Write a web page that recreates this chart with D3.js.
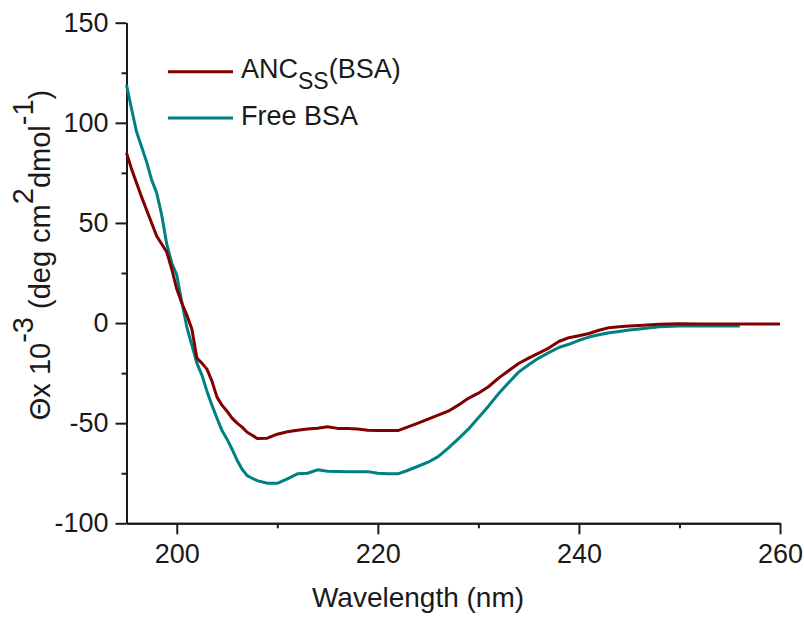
<!DOCTYPE html>
<html>
<head>
<meta charset="utf-8">
<script src="https://cdn.jsdelivr.net/npm/d3@7"></script>
<style>
  html,body{margin:0;padding:0;background:#fff;}
  svg{display:block;font-family:"Liberation Sans",Arial,sans-serif;}
  .axis path,.axis line{stroke:#1a1a1a;stroke-width:2;}
  .axis text{fill:#1a1a1a;font-size:27px;font-family:"Liberation Sans",Arial,sans-serif;}
</style>
</head>
<body>
<svg id="chart" width="804" height="619"></svg>
<script>
// CD spectra : ellipticité molaire (x10^-3) en fonction de la longueur d'onde

// ── DONNÉES ──────────────────────────────────────────────────────────────
var wavelength=[195,195.5,196,196.5,197,197.5,198,198.5,199,199.5,200,200.5,201,201.5,202,202.5,
  203,203.5,204,204.5,205,205.5,206,206.5,207,207.5,208,209,210,211,212,213,214,215,216,217,218,
  219,220,221,222,223,224,225,226,227,228,229,230,231,232,233,234,235,236,237,238,239,240,241,242,
  243,244,245,246,248,250,252,254,256,258,260];

var ancBsa=[85,77,70,63,56.5,50,43.5,39.5,35.5,27,17,10,4,-3,-17.5,-20,
  -23,-29,-37,-41,-44,-47.5,-50,-52,-54.5,-56,-57.6,-57.5,-55.5,-54.3,-53.5,-52.9,-52.5,-51.8,-52.6,-52.7,-52.9,
  -53.5,-53.7,-53.7,-53.7,-51.8,-50,-48,-46,-44,-41,-37.6,-35,-31.8,-27.5,-23.8,-20.2,-17.5,-15,-12.5,-9.2,-7.3,-6.3,-5.2,-3.6,
  -2.3,-1.9,-1.5,-1.2,-0.6,-0.4,-0.5,-0.5,-0.5,-0.5,-0.5];

var freeBsa=[119,107,95.5,88,80.5,71.5,65,54,39.5,30,24,10.5,-2,-11,-20,-26,
  -34,-41,-47.5,-53.7,-58,-63,-68.5,-73,-76.2,-77.5,-78.7,-80,-80,-77.8,-75.3,-75,-73.3,-74,-74.1,-74.2,-74.2,
  -74.2,-75,-75.3,-75.3,-73.5,-71.5,-69.5,-66.7,-62.5,-57.8,-53,-47.3,-41.5,-35.3,-29.8,-24.5,-20.8,-17.5,-14.8,-12.2,-10.6,-8.6,-7,-5.8,
  -4.8,-4.2,-3.5,-3,-1.8,-1.5,-1.5,-1.5,-1.5,null,null];

var xMajor=[200,220,240,260], xMinor=[210,230,250];
var yMajor=[-100,-50,0,50,100,150], yMinor=[-75,-25,25,75,125];

var seriesNames=["ANC","Free BSA"];
var seriesColors=["#800000","#008080"];

// ── ÉCHELLES ─────────────────────────────────────────────────────────────
var svg=d3.select("#chart");
var x=d3.scaleLinear().domain([195,260]).range([126.5,780]);
var y=d3.scaleLinear().domain([-100,150]).range([523.3,22.7]);
var fmt=function(d){return String(d);}; // trait d'union simple, comme Origin

// ── AXES (graduations mineures puis majeures) ───────────────────────────
svg.append("g").attr("class","axis").attr("transform","translate(0,"+y(-100)+")")
  .call(d3.axisBottom(x).tickValues(xMinor).tickSize(5).tickSizeOuter(0).tickFormat(""));
svg.append("g").attr("class","axis").attr("transform","translate(0,"+y(-100)+")")
  .call(d3.axisBottom(x).tickValues(xMajor).tickSize(11).tickSizeOuter(0).tickPadding(10).tickFormat(fmt));
svg.append("g").attr("class","axis").attr("transform","translate("+x(195)+",0)")
  .call(d3.axisLeft(y).tickValues(yMinor).tickSize(5).tickSizeOuter(0).tickFormat(""));
svg.append("g").attr("class","axis").attr("transform","translate("+x(195)+",0)")
  .call(d3.axisLeft(y).tickValues(yMajor).tickSize(11).tickSizeOuter(0).tickPadding(7).tickFormat(fmt));

// ── COURBES ──────────────────────────────────────────────────────────────
function lineOf(vals){
  return d3.line()
    .defined(function(d,i){return vals[i]!==null;})
    .x(function(d){return x(d);})
    .y(function(d,i){return y(vals[i]);})(wavelength);
}
svg.append("path").attr("d",lineOf(freeBsa)).attr("fill","none")
  .attr("stroke",seriesColors[1]).attr("stroke-width",3).attr("stroke-linejoin","round");
svg.append("path").attr("d",lineOf(ancBsa)).attr("fill","none")
  .attr("stroke",seriesColors[0]).attr("stroke-width",3).attr("stroke-linejoin","round");

// ── LÉGENDE ──────────────────────────────────────────────────────────────
var leg=svg.append("g");
[71.7,118].forEach(function(ly,i){
  leg.append("line").attr("x1",168).attr("x2",233).attr("y1",ly).attr("y2",ly)
    .attr("stroke",seriesColors[i]).attr("stroke-width",3);
});
var t1=leg.append("text").attr("x",241).attr("y",78).attr("font-size",27).attr("fill","#1a1a1a");
t1.append("tspan").text(seriesNames[0]);
t1.append("tspan").attr("dy",10.5).attr("font-size",23).text("SS");
t1.append("tspan").attr("dy",-10.5).text("(BSA)");
leg.append("text").attr("x",241).attr("y",125).attr("font-size",27).attr("fill","#1a1a1a").text(seriesNames[1]);

// ── TITRES D'AXES ────────────────────────────────────────────────────────
svg.append("text").attr("x",418).attr("y",607).attr("text-anchor","middle")
  .attr("font-size",28).attr("fill","#1a1a1a").text("Wavelength (nm)");

var yl=svg.append("text").attr("transform","translate(50,255) rotate(-90)")
  .attr("text-anchor","middle").attr("font-size",29).attr("fill","#1a1a1a");
yl.append("tspan").text("\u0398x 10");
yl.append("tspan").attr("dy",-17).text("-3");
yl.append("tspan").attr("dy",17).text(" (deg cm");
yl.append("tspan").attr("dy",-17).text("2");
yl.append("tspan").attr("dy",17).text("dmol");
yl.append("tspan").attr("dy",-17).text("-1");
yl.append("tspan").attr("dy",17).text(")");
</script>
</body>
</html>
